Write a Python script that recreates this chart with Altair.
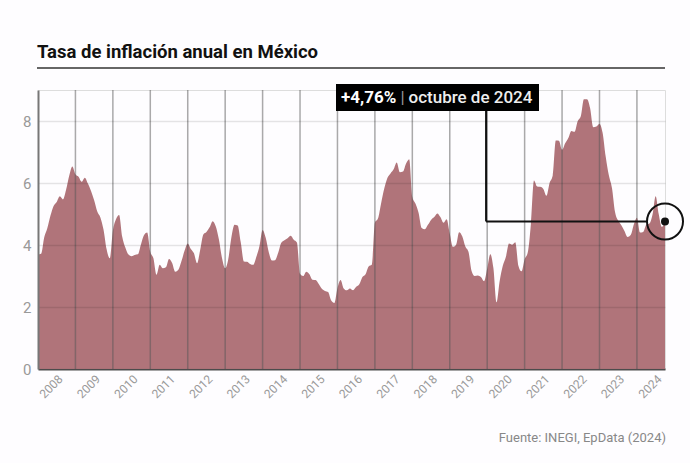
import altair as alt
import pandas as pd

years = list(range(2008, 2025))
y2008 = [3.70, 3.72, 4.25, 4.55, 4.95, 5.26, 5.39, 5.57, 5.47, 5.78, 6.23, 6.53]
y2009 = [6.28, 6.20, 6.04, 6.17, 5.98, 5.74, 5.44, 5.08, 4.89, 4.50, 3.86, 3.57]
y2010 = [4.46, 4.83, 4.97, 4.27, 3.92, 3.69, 3.64, 3.68, 3.70, 4.02, 4.32, 4.40]
y2011 = [3.78, 3.57, 3.04, 3.36, 3.25, 3.28, 3.55, 3.42, 3.14, 3.20, 3.48, 3.82]
y2012 = [4.05, 3.87, 3.73, 3.41, 3.85, 4.34, 4.42, 4.57, 4.77, 4.60, 4.18, 3.57]
y2013 = [3.25, 3.55, 4.25, 4.65, 4.63, 4.09, 3.47, 3.46, 3.39, 3.36, 3.62, 3.97]
y2014 = [4.48, 4.23, 3.76, 3.50, 3.51, 3.75, 4.07, 4.15, 4.22, 4.30, 4.17, 4.08]
y2015 = [3.07, 3.00, 3.14, 3.06, 2.88, 2.87, 2.74, 2.59, 2.52, 2.48, 2.21, 2.13]
y2016 = [2.61, 2.87, 2.60, 2.54, 2.60, 2.54, 2.65, 2.73, 2.97, 3.06, 3.31, 3.36]
y2017 = [4.72, 4.86, 5.35, 5.82, 6.16, 6.31, 6.44, 6.66, 6.35, 6.37, 6.63, 6.77]
y2018 = [5.55, 5.34, 5.04, 4.55, 4.51, 4.65, 4.81, 4.90, 5.02, 4.90, 4.72, 4.83]
y2019 = [4.37, 3.94, 4.00, 4.41, 4.28, 3.95, 3.78, 3.16, 3.00, 3.02, 2.97, 2.83]
y2020 = [3.24, 3.70, 3.25, 2.15, 2.84, 3.33, 3.62, 4.05, 4.01, 4.09, 3.33, 3.15]
y2021 = [3.54, 3.76, 4.67, 6.08, 5.89, 5.88, 5.81, 5.59, 6.00, 6.24, 7.37, 7.36]
y2022 = [7.07, 7.28, 7.45, 7.68, 7.65, 7.99, 8.15, 8.70, 8.70, 8.41, 7.80, 7.82]
y2023 = [7.91, 7.62, 6.85, 6.25, 5.84, 5.06, 4.79, 4.64, 4.45, 4.26, 4.32, 4.66]
y2024 = [4.88, 4.40, 4.42, 4.65, 4.69, 4.98, 5.57, 4.99, 4.58, 4.76]

series = [y2008, y2009, y2010, y2011, y2012, y2013, y2014, y2015, y2016,
          y2017, y2018, y2019, y2020, y2021, y2022, y2023, y2024]

y_ticks = [0, 2, 4, 6, 8]
title_text = "Tasa de inflación anual en México"
source_text = "Fuente: INEGI, EpData (2024)"
last_label_date = "octubre de 2024"

rows = []
for yr, vals in zip(years, series):
    for m, v in enumerate(vals):
        rows.append({"t": yr + m / 12.0, "v": v})
df = pd.DataFrame(rows)
last_t = rows[-1]["t"]
last_v = rows[-1]["v"]
value_label = "+" + f"{last_v:.2f}".replace(".", ",") + "%"

x_scale = alt.Scale(domain=[2008, last_t], nice=False, zero=False)
y_scale = alt.Scale(domain=[0, 9], nice=False)

x_axis = alt.Axis(values=[y + 0.5 for y in years], labelExpr="floor(datum.value)",
                  labelAngle=-45, labelAlign="right", labelBaseline="top",
                  labelOverlap=False, labelFlush=False, title=None,
                  labelFontSize=12, labelColor="#999", labelPadding=4,
                  ticks=False, grid=False, domainColor="#555", domainWidth=2)
y_axis = alt.Axis(values=y_ticks, labelFontSize=15, labelColor="#999", title=None,
                  labelPadding=7, ticks=False, grid=True, gridColor="#000",
                  gridOpacity=0.1, gridWidth=1.5, domainColor="#777",
                  domainWidth=2, zindex=1)

def X(field="t:Q"):
    return alt.X(field, scale=x_scale, axis=x_axis, title=None)

def Y(field="v:Q"):
    return alt.Y(field, scale=y_scale, axis=y_axis, title=None)

area = alt.Chart(df).mark_area(interpolate="monotone", color="#b0747a").encode(
    x=X(), y=Y())

vgrid = alt.Chart(pd.DataFrame({"t": years[1:]})).mark_rule(
    color="#555", opacity=0.5, strokeWidth=1.5).encode(x=X())

anchor_t = 2019.97
vline = alt.Chart(pd.DataFrame({"t": [anchor_t], "v": [last_v]})).mark_rule(
    color="#111", strokeWidth=2).encode(x=X(), y=Y(), y2=alt.value(21))

hline = alt.Chart(pd.DataFrame({"t": [anchor_t], "t2": [last_t - 0.48], "v": [last_v]})).mark_rule(
    color="#111", strokeWidth=2).encode(x=X(), x2="t2:Q", y=Y())

last_df = pd.DataFrame({"t": [last_t], "v": [last_v]})
ring = alt.Chart(last_df).mark_point(shape="circle", size=1296, filled=False,
                                      color="#111", strokeWidth=2, opacity=1).encode(
    x=X(), y=Y())
dot = alt.Chart(last_df).mark_point(shape="circle", size=64, filled=True,
                                     color="#111", opacity=1).encode(
    x=X(), y=Y())

box = alt.Chart(last_df).mark_rect(color="#000").encode(
    x=alt.value(298), x2=alt.value(501), y=alt.value(-6), y2=alt.value(21))

lbl_val = alt.Chart(pd.DataFrame({"s": [value_label]})).mark_text(
    align="left", baseline="alphabetic", fontSize=17, fontWeight="bold",
    color="#fff", font="Roboto").encode(
    x=alt.value(303), y=alt.value(12.5), text="s:N")
lbl_sep = alt.Chart(pd.DataFrame({"s": ["|"]})).mark_text(
    align="left", baseline="alphabetic", fontSize=17, color="#999",
    font="Roboto").encode(
    x=alt.value(362.5), y=alt.value(12.5), text="s:N")
lbl_date = alt.Chart(pd.DataFrame({"s": [last_label_date]})).mark_text(
    align="left", baseline="alphabetic", fontSize=17, fontWeight=500,
    color="#eee", font="Roboto").encode(
    x=alt.value(370.5), y=alt.value(12.5), text="s:N")

title = alt.Chart(pd.DataFrame({"s": [title_text]})).mark_text(
    align="left", baseline="alphabetic", fontSize=18.5, fontWeight="bold",
    color="#111", font="Roboto").encode(
    x=alt.value(-1), y=alt.value(-32.3), text="s:N")
underline = alt.Chart(pd.DataFrame({"a": [0]})).mark_rule(
    color="#666", strokeWidth=2).encode(
    x=alt.value(-1), x2=alt.value(627), y=alt.value(-22))
source = alt.Chart(pd.DataFrame({"s": [source_text]})).mark_text(
    align="right", baseline="alphabetic", fontSize=13, color="#888",
    font="Roboto").encode(
    x=alt.value(628), y=alt.value(352), text="s:N")

chart = alt.layer(area, vgrid, vline, hline, ring, dot, box, lbl_val, lbl_sep,
                  lbl_date, title, underline, source).properties(
    width=627, height=279,
    padding={"left": 38, "top": 90, "right": 25, "bottom": 94},
    autosize=alt.AutoSizeParams(type="none"),
    background="#fefdff",
).configure_view(stroke=None, fill="#f4f3f6").configure(font="Roboto")

chart.save("out.html", embed_options={"renderer": "svg", "actions": False})
